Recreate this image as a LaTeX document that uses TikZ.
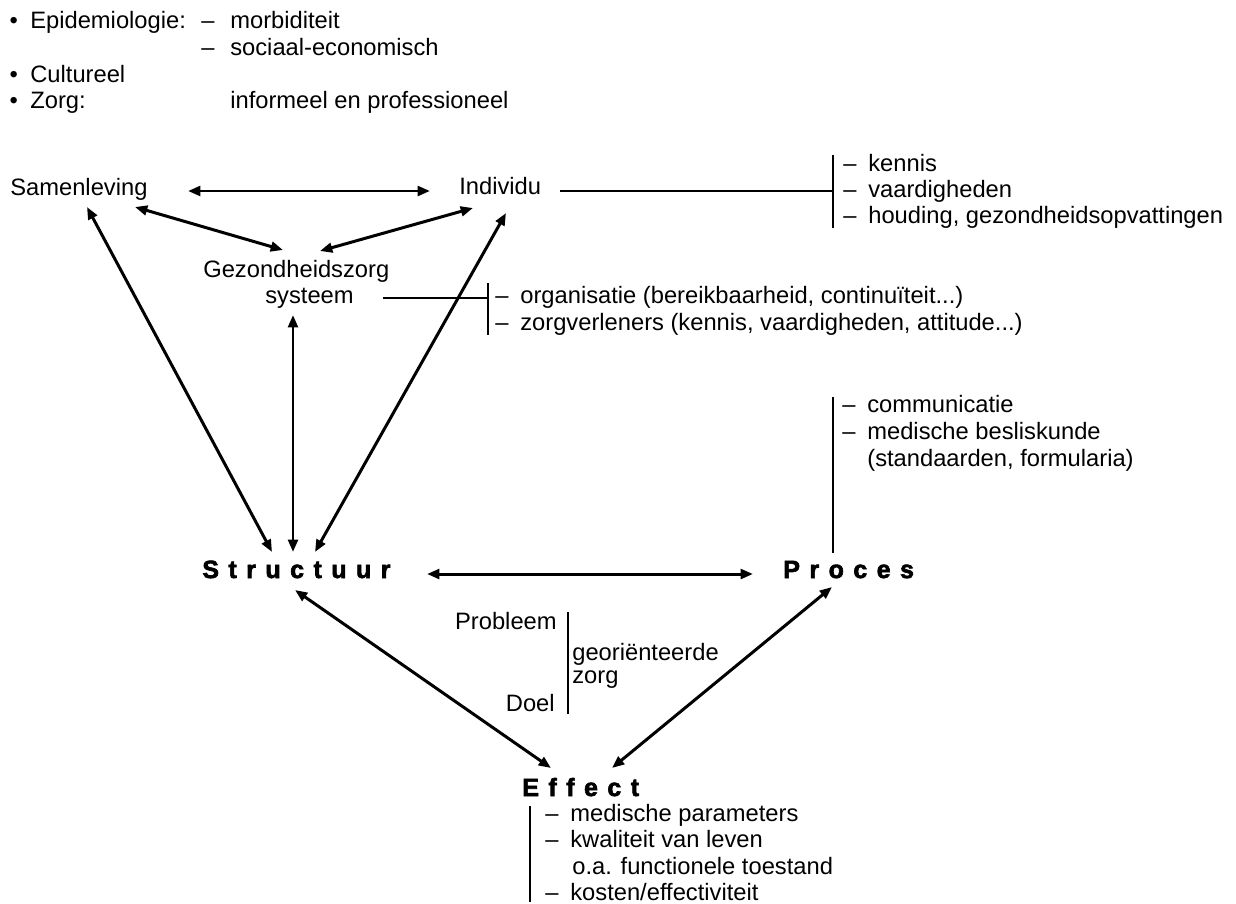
\documentclass[tikz,border=0pt]{standalone}
\usepackage{fontspec}
\setmainfont{Liberation Sans}
\newfontfamily\heavyfont{Liberation Sans Bold}[LetterSpace=38,FakeBold=2.5]
\usetikzlibrary{arrows.meta}

\tikzset{
  txt/.style={inner sep=0pt, anchor=base west, font=\fontsize{13.5}{16}\selectfont},
  rtxt/.style={txt, anchor=base east},
  head/.style={inner sep=0pt, anchor=base west, font=\fontsize{14.2}{17}\heavyfont},
  dbl/.style={{Triangle[length=7pt,width=5.5pt]}-{Triangle[length=7pt,width=5.5pt]}, line width=1.7pt},
  plain/.style={line width=1.1pt},
}

\begin{document}
\begin{tikzpicture}[x=0.02cm,y=-0.02cm]
  \useasboundingbox (0,0) rectangle (1236,903);

  % list at the top
  \node[txt] (epi)    at (30,28)  {\llap{•\hspace{7pt}}Epidemiologie:};
  \node[txt] (morb)   at (230,28) {\llap{–\hspace{9pt}}morbiditeit};
  \node[txt] (soc)    at (230,55) {\llap{–\hspace{9pt}}sociaal-economisch};
  \node[txt] (cult)   at (30,82)  {\llap{•\hspace{7pt}}Cultureel};
  \node[txt] (zorg)   at (30,108) {\llap{•\hspace{7pt}}Zorg:};
  \node[txt] (inform) at (230,108) {informeel en professioneel};

  % upper triangle
  \node[txt] (samen) at (10,195)  {Samenleving};
  \node[txt] (indiv) at (459,194) {Individu};
  \node[txt] (gez)   at (203,277) {Gezondheidszorg};
  \node[txt] (syst)  at (265,303) {systeem};

  \node[txt] (kennis) at (868,171) {\llap{–\enspace}kennis};
  \node[txt] (vaard)  at (868,197) {\llap{–\enspace}vaardigheden};
  \node[txt] (houd)   at (868,223) {\llap{–\enspace}houding, gezondheidsopvattingen};

  \node[txt] (organ) at (520,303) {\llap{–\enspace}organisatie (bereikbaarheid, continuïteit...)};
  \node[txt] (zverl) at (520,330) {\llap{–\enspace}zorgverleners (kennis, vaardigheden, attitude...)};

  % lower triangle
  \node[head] (struct) at (202,578) {Structuur};
  \node[head] (proces) at (783,578) {Proces};
  \node[head] (effect) at (522,796) {Effect};

  \node[txt] (comm)   at (867,412) {\llap{–\enspace}communicatie};
  \node[txt] (medbes) at (867,439) {\llap{–\enspace}medische besliskunde};
  \node[txt] (stand)  at (867,466) {(standaarden, formularia)};

  \node[rtxt] (probl)    at (557,629) {Probleem};
  \node[txt]  (georient) at (572,660) {georiënteerde};
  \node[txt]  (zorgw)    at (572,683) {zorg};
  \node[rtxt] (doel)     at (555,711) {Doel};

  \node[txt] (medpar) at (570,821) {\llap{–\enspace}medische parameters};
  \node[txt] (kwal)   at (570,847) {\llap{–\enspace}kwaliteit van leven};
  \node[txt] (oa)     at (572,874) {o.a. functionele toestand};
  \node[txt] (kost)   at (570,900) {\llap{–\enspace}kosten/effectiviteit};

  % arrows
  \draw[dbl] ([shift={(178,-4)}]samen.base west) -- ([shift={(-29,-3)}]indiv.base west);
  \draw[dbl] ([shift={(125,12)}]samen.base west) -- ([shift={(80,-27)}]gez.base west);
  \draw[dbl] ([shift={(14,14)}]indiv.base west) -- ([shift={(117,-26)}]gez.base west);
  \draw[dbl] ([shift={(77,12)}]samen.base west) -- ([shift={(70,-26)}]struct.base west);
  \draw[dbl] ([shift={(47,19)}]indiv.base west) -- ([shift={(113,-26)}]struct.base west);
  \draw[dbl] ([shift={(28,12)}]syst.base west) -- ([shift={(91,-26)}]struct.base west);
  \draw[dbl] ([shift={(225,-4)}]struct.base west) -- ([shift={(-30,-4)}]proces.base west);
  \draw[dbl] ([shift={(93,12)}]struct.base west) -- ([shift={(29,-28)}]effect.base west);
  \draw[dbl] ([shift={(49,9)}]proces.base west) -- ([shift={(90,-28)}]effect.base west);

  % brackets
  \draw[plain] ([shift={(101,-3)}]indiv.base west) -- ([shift={(-35,-6)}]vaard.base west);
  \draw[plain] ([shift={(-35,-16)}]kennis.base west) -- ([shift={(-35,5)}]houd.base west);
  \draw[plain] ([shift={(118,-5)}]syst.base west) -- ([shift={(-32,-5)}]organ.base west);
  \draw[plain] ([shift={(-32,-20)}]organ.base west) -- ([shift={(-32,5)}]zverl.base west);
  \draw[plain] ([shift={(-34,-15)}]comm.base west) -- ([shift={(50,-25)}]proces.base west);
  \draw[plain] ([shift={(11,-17)}]probl.base east) -- ([shift={(13,3)}]doel.base east);
  \draw[plain] ([shift={(-40,-15)}]medpar.base west) -- ([shift={(-40,2)}]kost.base west);

\end{tikzpicture}
\end{document}
